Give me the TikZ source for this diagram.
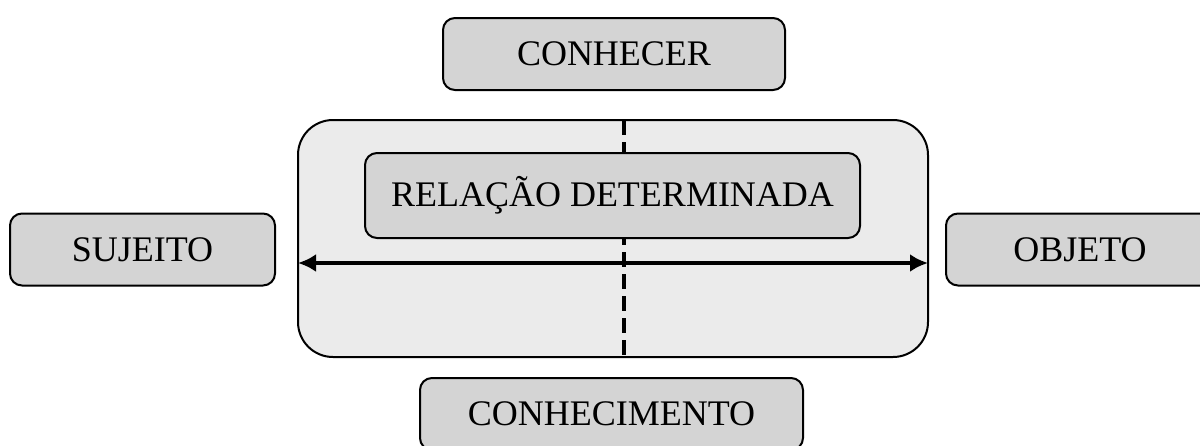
\documentclass[tikz,border=0pt]{standalone}
\usepackage{fontspec}
\setmainfont{Liberation Serif}
\usepackage{xcolor}
\usetikzlibrary{arrows.meta,positioning}
\definecolor{boxgray}{HTML}{D4D4D4}
\definecolor{framegray}{HTML}{EBEBEB}

\begin{document}
\begin{tikzpicture}[
  x=0.5pt,y=-0.5pt,
  box/.style={draw,line width=1pt,rounded corners=6pt,fill=boxgray,
              minimum height=36pt,align=center,inner sep=0pt,
              font=\fontsize{18}{22}\selectfont},
  frame/.style={draw,line width=1pt,rounded corners=17.5pt,fill=framegray,
                minimum width=315pt,minimum height=118.5pt,inner sep=0pt},
  arrow/.style={{Latex[length=9pt,width=9pt]}-{Latex[length=9pt,width=9pt]},line width=1.8pt},
  divide/.style={line width=1.8pt,dash pattern=on 7.5pt off 3.5pt},
]
\useasboundingbox (0,0) rectangle (1200,445);
\clip (0,0) rectangle (1200,445);
\node[box,minimum width=171pt] (conhecer) at (614,54) {CONHECER};
\node[frame] (relacao) at (613,238.5) {};
\coordinate (dtop) at (624,120);
\coordinate (dbot) at (624,357);
\draw[divide] (dtop) -- (dbot);
\coordinate (aleft) at (298,263);
\coordinate (aright) at (928,263);
\draw[arrow] (aleft) -- (aright);
\node[box,minimum width=247.5pt,minimum height=42.5pt] (det) at (612.5,195.5) {RELAÇÃO DETERMINADA};
\node[box,minimum width=132.5pt] (sujeito) at (142.5,249.5) {SUJEITO};
\node[box,minimum width=134pt] (objeto) at (1080,249.5) {OBJETO};
\node[box,minimum width=191.5pt] (conhec) at (611.5,414) {CONHECIMENTO};
\end{tikzpicture}
\end{document}
